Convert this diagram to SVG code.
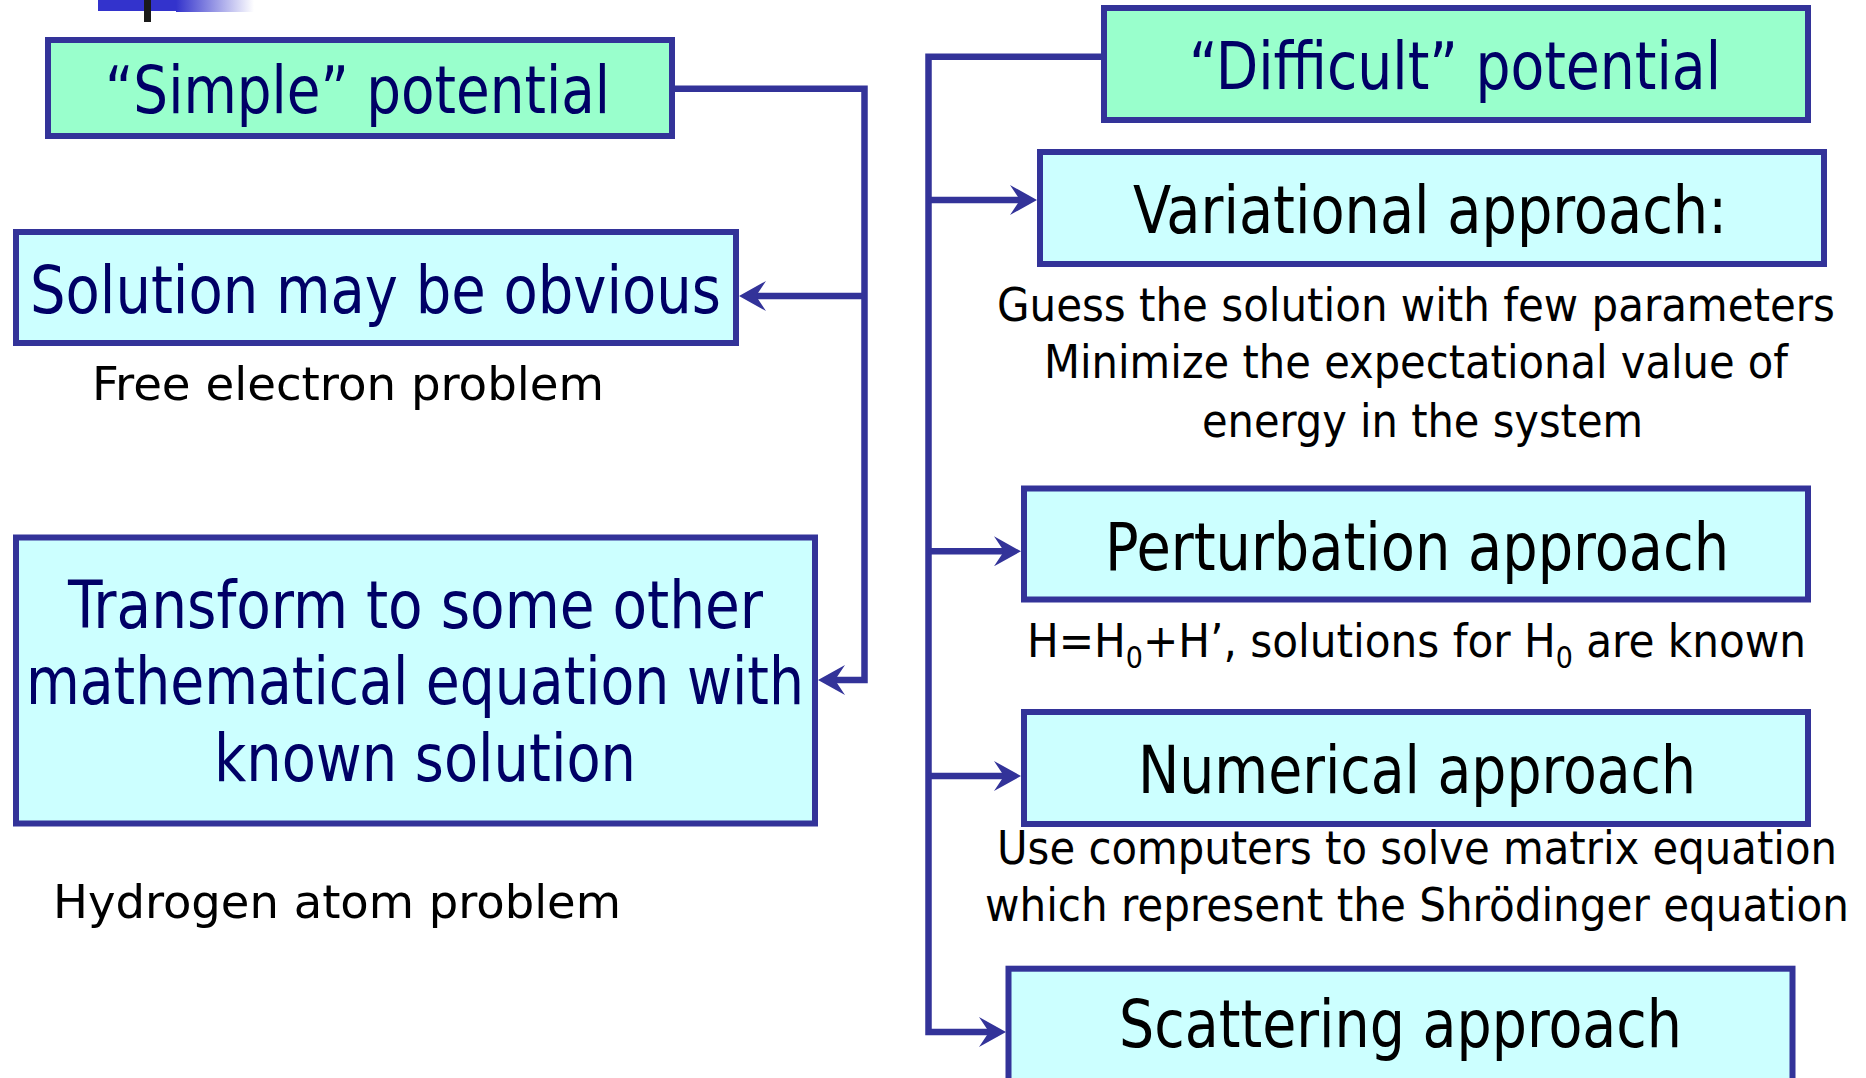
<svg xmlns="http://www.w3.org/2000/svg" width="1866" height="1078" viewBox="0 0 1866 1078">
  <defs>
    <linearGradient id="fade" x1="0" y1="0" x2="1" y2="0">
      <stop offset="0" stop-color="#3333CC"/>
      <stop offset="1" stop-color="#FFFFFF"/>
    </linearGradient>
    <marker id="arrow" viewBox="0 0 27 30" refX="10" refY="15" markerWidth="27" markerHeight="30" markerUnits="userSpaceOnUse" orient="auto">
      <path d="M27,15 L0,0 L10,15 L0,30 Z" fill="#333399"/>
    </marker>
    <style>
      .mint { fill: #99FFCC; stroke: #333399; stroke-width: 6; }
      .cyan { fill: #CCFFFF; stroke: #333399; stroke-width: 6; }
      .conn { fill: none; stroke: #333399; stroke-width: 6.5; stroke-linejoin: miter; }
      .arr { marker-end: url(#arrow); }
      text { font-family: "DejaVu Sans Condensed", "DejaVu Sans", Tahoma, sans-serif; }
      .title { font-size: 65px; }
      .small { font-size: 47px; fill: #000000; }
      .navy { fill: #000066; }
      .black { fill: #000000; }
    </style>
  </defs>

  <!-- top-left title remnant -->
  <g id="title-remnant">
    <rect x="98" y="0" width="78" height="11" fill="#3333CC"/>
    <rect x="176" y="0" width="78" height="12" fill="url(#fade)"/>
    <rect x="144" y="0" width="7" height="22" fill="#1a1a1a"/>
  </g>

  <g id="connectors">
    <path class="conn arr" d="M672,88.7 H864.5 V680 H835"/>
    <path class="conn arr" d="M864.5,296 H756"/>
    <path class="conn arr" d="M1107,56.7 H928.5 V1032 H989"/>
    <path class="conn arr" d="M928.5,200 H1020"/>
    <path class="conn arr" d="M928.5,551.3 H1004"/>
    <path class="conn arr" d="M928.5,776 H1004"/>
  </g>

  <g id="simple-potential">
    <rect class="mint" x="48" y="40" width="624" height="96"/>
    <text class="title navy" x="105" y="113" textLength="505" lengthAdjust="spacingAndGlyphs">“Simple” potential</text>
  </g>

  <g id="solution-obvious">
    <rect class="cyan" x="16" y="232" width="720" height="111"/>
    <text class="title navy" x="30" y="313" textLength="691" lengthAdjust="spacingAndGlyphs">Solution may be obvious</text>
  </g>
  <g id="free-electron">
    <text class="small" x="92" y="400" textLength="512" lengthAdjust="spacingAndGlyphs">Free electron problem</text>
  </g>

  <g id="transform">
    <rect class="cyan" x="16" y="537.5" width="799" height="286"/>
    <text class="title navy" x="68" y="628" textLength="695" lengthAdjust="spacingAndGlyphs">Transform to some other</text>
    <text class="title navy" x="26" y="704" textLength="778" lengthAdjust="spacingAndGlyphs">mathematical equation with</text>
    <text class="title navy" x="214" y="781" textLength="422" lengthAdjust="spacingAndGlyphs">known solution</text>
  </g>
  <g id="hydrogen">
    <text class="small" x="53" y="918" textLength="568" lengthAdjust="spacingAndGlyphs">Hydrogen atom problem</text>
  </g>

  <g id="difficult-potential">
    <rect class="mint" x="1104" y="8" width="704" height="112"/>
    <text class="title navy" x="1189" y="89" textLength="532" lengthAdjust="spacingAndGlyphs">“Difficult” potential</text>
  </g>

  <g id="variational">
    <rect class="cyan" x="1040" y="152" width="784" height="112"/>
    <text class="title black" x="1133" y="233" textLength="594" lengthAdjust="spacingAndGlyphs">Variational approach:</text>
  </g>
  <g id="variational-note">
    <text class="small" x="997" y="321" textLength="838" lengthAdjust="spacingAndGlyphs">Guess the solution with few parameters</text>
    <text class="small" x="1044" y="378" textLength="744" lengthAdjust="spacingAndGlyphs">Minimize the expectational value of</text>
    <text class="small" x="1202" y="437" textLength="441" lengthAdjust="spacingAndGlyphs">energy in the system</text>
  </g>

  <g id="perturbation">
    <rect class="cyan" x="1024" y="488.5" width="784" height="111"/>
    <text class="title black" x="1105" y="569.5" textLength="624" lengthAdjust="spacingAndGlyphs">Perturbation approach</text>
  </g>
  <g id="perturbation-note">
    <text class="small" x="1027" y="656.7" textLength="779" lengthAdjust="spacingAndGlyphs">H=H<tspan font-size="30" dy="11.5">0</tspan><tspan dy="-11.5">+H’, solutions for H</tspan><tspan font-size="30" dy="11.5">0</tspan><tspan dy="-11.5"> are known</tspan></text>
  </g>

  <g id="numerical">
    <rect class="cyan" x="1024" y="712" width="784" height="112"/>
    <text class="title black" x="1138" y="793" textLength="558" lengthAdjust="spacingAndGlyphs">Numerical approach</text>
  </g>
  <g id="numerical-note">
    <text class="small" x="997" y="863.5" textLength="840" lengthAdjust="spacingAndGlyphs">Use computers to solve matrix equation</text>
    <text class="small" x="985" y="920.6" textLength="864" lengthAdjust="spacingAndGlyphs">which represent the Shrödinger equation</text>
  </g>

  <g id="scattering">
    <rect class="cyan" x="1008.5" y="968.7" width="784" height="130"/>
    <text class="title black" x="1119" y="1047" textLength="563" lengthAdjust="spacingAndGlyphs">Scattering approach</text>
  </g>
</svg>
